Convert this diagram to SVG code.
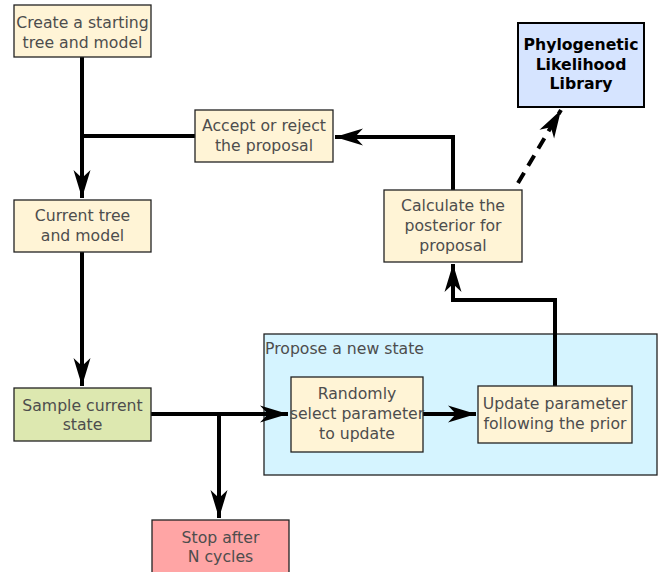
<svg xmlns="http://www.w3.org/2000/svg" width="667" height="572" viewBox="0 0 667 572">
<style>
.box{stroke:#222;stroke-width:1.3}
.y{fill:#fff4d6}
.t{font-family:"DejaVu Sans",sans-serif;font-size:15.7px;fill:#4d4d4d;text-anchor:middle}
.b{font-family:"DejaVu Sans",sans-serif;font-size:15.7px;font-weight:bold;fill:#000;text-anchor:middle}
.c{fill:none;stroke:#000;stroke-width:4}
</style>
<defs>
<marker id="ah" markerUnits="userSpaceOnUse" markerWidth="32" markerHeight="20" viewBox="-30 -10 32 20" refX="0" refY="0" orient="auto">
<path d="M0,0 L-28,-8.5 L-20,0 L-28,8.5 Z" fill="#000"/>
</marker>
</defs>
<g id="propose">
<rect x="264" y="334" width="393" height="141" fill="#d5f4ff" class="box"/>
<text x="265" y="354" class="t" style="text-anchor:start">Propose a new state</text>
</g>
<g id="connectors">
<path class="c" d="M82,57 V198" marker-end="url(#ah)"/>
<path class="c" d="M195,136 H82"/>
<path class="c" d="M82,252 V386" marker-end="url(#ah)"/>
<path class="c" d="M453,190 V137 H335" marker-end="url(#ah)"/>
<path class="c" d="M555,386 V300 H453 V264" marker-end="url(#ah)"/>
<path class="c" d="M151,414 H288" marker-end="url(#ah)"/>
<path class="c" d="M219,414 V518" marker-end="url(#ah)"/>
<path class="c" d="M423,414 H476" marker-end="url(#ah)"/>
<path class="c" d="M518,183 L561,110" stroke-dasharray="12,8" marker-end="url(#ah)"/>
</g>
<g id="create">
<rect x="14" y="5" width="137" height="52" class="box y"/>
<text x="82.5" y="28" class="t">Create a starting</text>
<text x="82.5" y="48" class="t">tree and model</text>
</g>
<g id="current">
<rect x="14" y="200" width="137" height="52" class="box y"/>
<text x="82.5" y="221" class="t">Current tree</text>
<text x="82.5" y="241" class="t">and model</text>
</g>
<g id="accept">
<rect x="195" y="110" width="138" height="52" class="box y"/>
<text x="264" y="131" class="t">Accept or reject</text>
<text x="264" y="151" class="t">the proposal</text>
</g>
<g id="calculate">
<rect x="384" y="190" width="138" height="72" class="box y"/>
<text x="453" y="211" class="t">Calculate the</text>
<text x="453" y="231" class="t">posterior for</text>
<text x="453" y="251" class="t">proposal</text>
</g>
<g id="library">
<rect x="518" y="23" width="126" height="84" fill="#d6e4ff" stroke="#000" stroke-width="2"/>
<text x="581" y="50" class="b">Phylogenetic</text>
<text x="581" y="70" class="b">Likelihood</text>
<text x="581" y="89" class="b">Library</text>
</g>
<g id="sample">
<rect x="14" y="388" width="137" height="53" fill="#dde8b0" class="box"/>
<text x="82.5" y="411" class="t">Sample current</text>
<text x="82.5" y="430" class="t">state</text>
</g>
<g id="stop">
<rect x="152" y="520" width="137" height="60" fill="#ffa5a5" class="box"/>
<text x="220.5" y="543" class="t">Stop after</text>
<text x="220.5" y="562" class="t">N cycles</text>
</g>
<g id="randomly">
<rect x="291" y="377" width="132" height="75" class="box y"/>
<text x="357" y="399" class="t">Randomly</text>
<text x="357" y="419" class="t">select parameter</text>
<text x="357" y="439" class="t">to update</text>
</g>
<g id="update">
<rect x="478" y="386" width="154" height="57" class="box y"/>
<text x="555" y="409" class="t">Update parameter</text>
<text x="555" y="429" class="t">following the prior</text>
</g>
</svg>
